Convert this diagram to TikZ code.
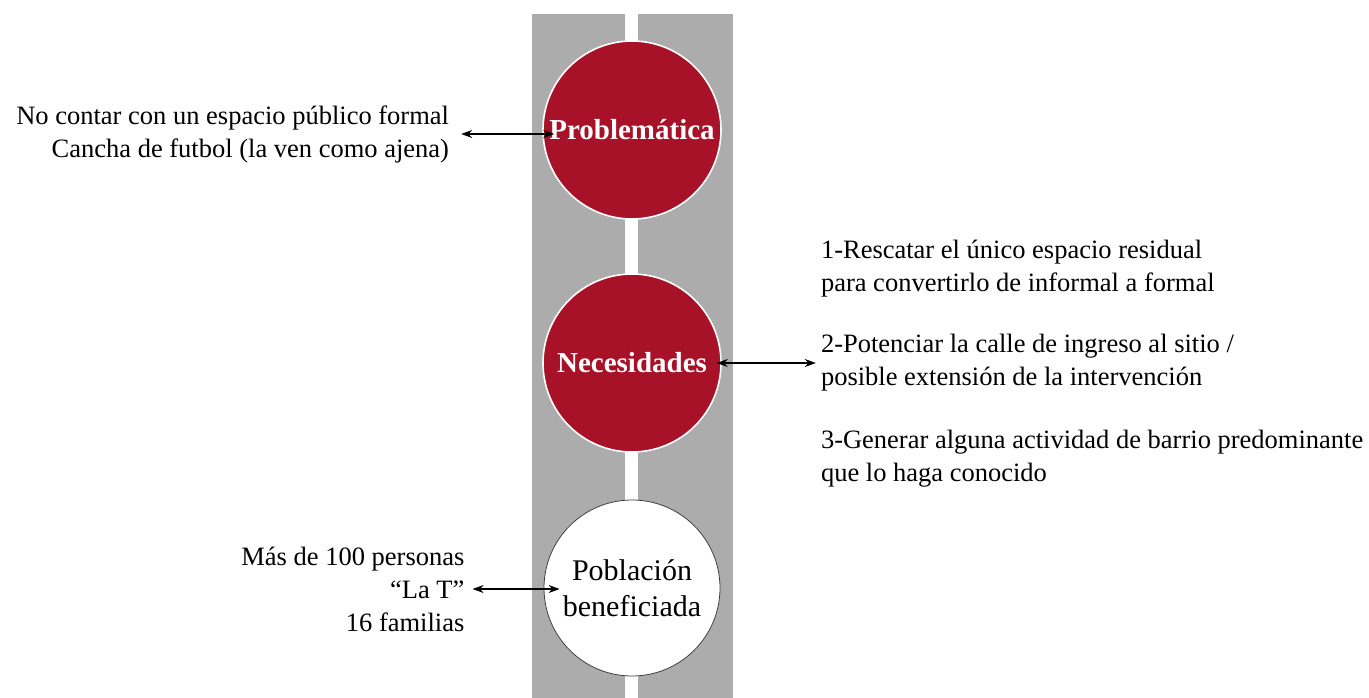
\documentclass[tikz,border=0pt]{standalone}
\usepackage{fontspec}
\setmainfont{Liberation Serif}
\usepackage{xcolor}
\usetikzlibrary{arrows.meta,positioning}
\definecolor{vino}{RGB}{168,18,40}
\definecolor{franja}{RGB}{172,172,172}

\begin{document}
\begin{tikzpicture}[
  x=1pt, y=-1pt,
  disco/.style={draw=white,circle,line width=1.6pt,fill=vino,minimum size=178pt,
                inner sep=0pt,text=white,font=\fontsize{29}{34}\selectfont\bfseries},
  blanco/.style={draw=black!75,circle,line width=0.8pt,fill=white,minimum size=176pt,
                 inner sep=0pt,align=center,font=\fontsize{30}{36}\selectfont},
  nota/.style={inner sep=0pt,font=\fontsize{26.5}{33}\selectfont},
  doble/.style={{Stealth[length=11pt,width=8pt]}-{Stealth[length=11pt,width=8pt]},
                line width=1.1pt}
]
\useasboundingbox (0,0) rectangle (1369,698);
% franja gris con linea central
\fill[franja] (532,14) rectangle (733,698);
\fill[white] (625,14) rectangle (638,698);

\node[disco] (prob) at (632,130) {Problemática};
\node[disco] (nec) at (632,363) {Necesidades};
\node[blanco] (pob) at (632,588) {Población\\beneficiada};

\node[nota,align=right,left=93pt of prob,yshift=-4pt] (probtxt)
  {No contar con un espacio público formal\\Cancha de futbol (la ven como ajena)};
\node[nota,align=left,right=99pt of nec] (necB)
  {2-Potenciar la calle de ingreso al sitio /\\posible extensión de la intervención};
\node[nota,align=left,above=37pt of necB.north west,anchor=south west] (necA)
  {1-Rescatar el único espacio residual\\para convertirlo de informal a formal};
\node[nota,align=left,below=38pt of necB.south west,anchor=north west] (necC)
  {3-Generar alguna actividad de barrio predominante\\que lo haga conocido};
\node[nota,align=right,left=79pt of pob,yshift=-1pt] (pobtxt)
  {Más de 100 personas\\“La T”\\16 familias};

\draw[doble] ([xshift=12pt]probtxt.east) -- ([xshift=12pt]prob.west |- probtxt.east);
\draw[doble] ([xshift=-5pt]nec.east) -- ([xshift=-5pt]necB.west);
\draw[doble] ([xshift=8pt]pobtxt.east) -- ([xshift=16pt]pob.west |- pobtxt.east);
\end{tikzpicture}
\end{document}
